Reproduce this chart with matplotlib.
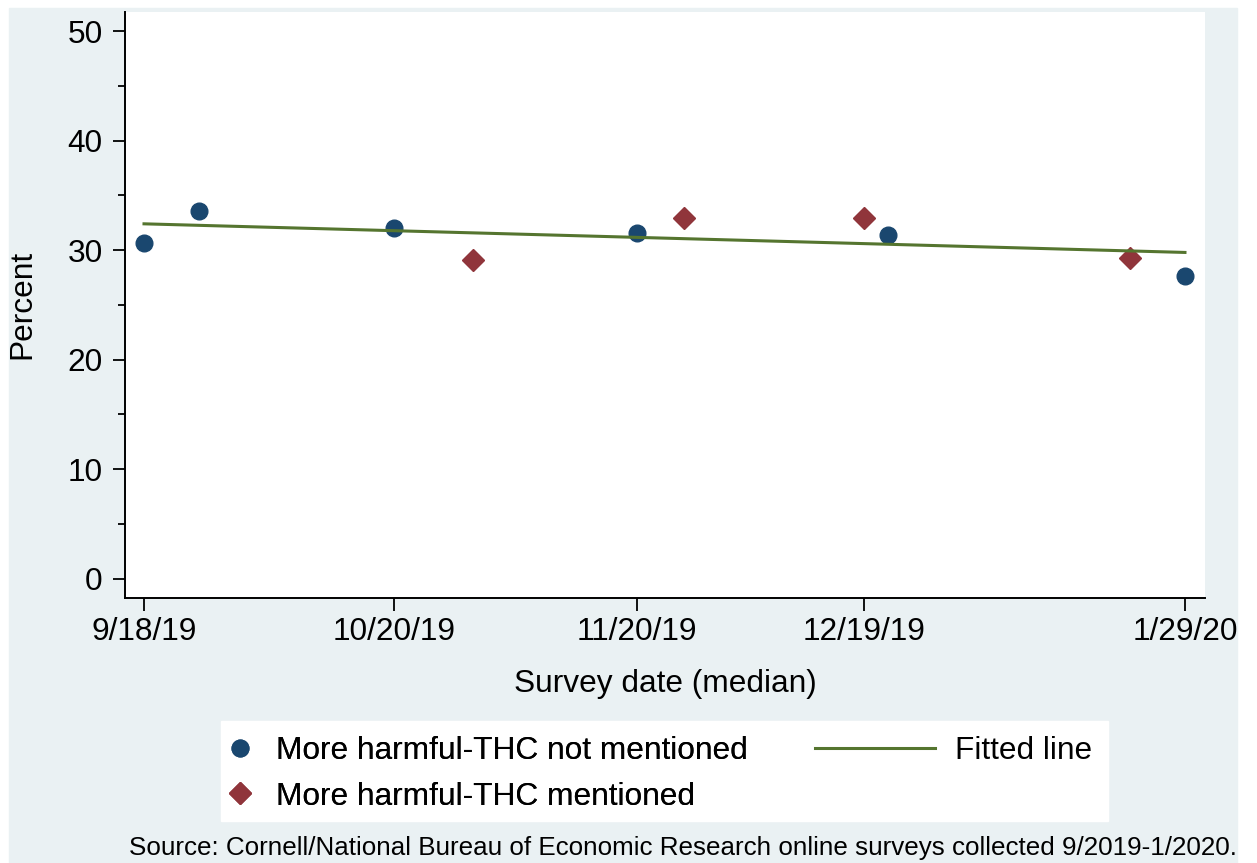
import numpy as np
import pandas as pd
import matplotlib
matplotlib.use('Agg')
import matplotlib.pyplot as plt
import matplotlib.dates as mdates
from matplotlib.patches import Rectangle
from matplotlib.lines import Line2D

plt.rcParams['font.family'] = ['Liberation Sans', 'DejaVu Sans']

# median survey dates and share saying vaping is more harmful
tick_dates = ['2019-09-18', '2019-10-20', '2019-11-20', '2019-12-19', '2020-01-29']
tick_labels = ['9/18/19', '10/20/19', '11/20/19', '12/19/19', '1/29/20']

not_mentioned_dates = ['2019-09-18', '2019-09-25', '2019-10-20', '2019-11-20', '2019-12-22', '2020-01-29']
not_mentioned_pct = [30.6, 33.55, 32.0, 31.6, 31.4, 27.6]

mentioned_dates = ['2019-10-30', '2019-11-26', '2019-12-19', '2020-01-22']
mentioned_pct = [29.1, 32.95, 32.9, 29.3]

navy = '#1A476F'
maroon = '#90353B'
green = '#55752F'
bg = '#EAF1F3'

W, H = 1257, 863
fs = 22.8

x_nm = mdates.date2num(pd.to_datetime(not_mentioned_dates))
x_m = mdates.date2num(pd.to_datetime(mentioned_dates))
x_ticks = mdates.date2num(pd.to_datetime(tick_dates))

# linear fit over both groups
x_all = np.concatenate([x_nm, x_m])
y_all = np.concatenate([not_mentioned_pct, mentioned_pct])
slope, intercept = np.polyfit(x_all, y_all, 1)
x_fit = np.array([x_all.min(), x_all.max()])
y_fit = intercept + slope * x_fit

fig = plt.figure(figsize=(W / 100, H / 100), dpi=100)
fig.patch.set_facecolor('white')
fig.patches.append(Rectangle((9 / W, 0), (1237 - 9) / W, (H - 8) / H,
                             transform=fig.transFigure, color=bg, zorder=-10))

ax = fig.add_axes([125 / W, 1 - 597.7 / H, 1080 / W, 585.7 / H])
ax.set_facecolor('white')

ax.plot(x_nm, not_mentioned_pct, 'o', color=navy, markersize=12, zorder=2)
ax.plot(x_m, mentioned_pct, 'D', color=maroon, markersize=11.5, zorder=2)
ax.plot(x_fit, y_fit, '-', color=green, linewidth=2.2, zorder=3)

ax.set_xlim(x_ticks[0] - 2.43, x_ticks[-1] + 2.56)
ax.set_ylim(-1.75, 51.74)

ax.set_xticks(x_ticks)
ax.set_xticklabels(tick_labels)
ax.set_yticks([0, 10, 20, 30, 40, 50])
ax.set_yticks([5, 15, 25, 35, 45], minor=True)

for side in ['top', 'right']:
    ax.spines[side].set_visible(False)
for side in ['left', 'bottom']:
    ax.spines[side].set_linewidth(1.4)
    ax.spines[side].set_color('black')

ax.tick_params(axis='both', which='major', length=9, width=1.3, labelsize=fs, color='black')
ax.tick_params(axis='y', which='major', pad=7)
ax.tick_params(axis='x', which='major', pad=5)
ax.tick_params(axis='y', which='minor', length=5, width=1.3, color='black')

ax.set_ylabel('Percent', fontsize=fs)
ax.yaxis.set_label_coords(22 / W, 0.5 * (1 - 12 / H + 1 - 597.7 / H), transform=fig.transFigure)
ax.yaxis.label.set_va('center')
ax.set_xlabel('Survey date (median)', fontsize=fs)
ax.xaxis.set_label_coords((125 + 540) / W, 1 - 684 / H, transform=fig.transFigure)
ax.xaxis.label.set_va('center')

# legend: white box with markers on the left, fitted line on the right
fig.patches.append(Rectangle((221 / W, 1 - 820.7 / H), (1108 - 221) / W, 100 / H,
                             transform=fig.transFigure, color='white', zorder=-5))

h_nm = Line2D([], [], linestyle='none', marker='o', color=navy, markersize=12)
h_m = Line2D([], [], linestyle='none', marker='D', color=maroon, markersize=11.5)
h_fit = Line2D([], [], color=green, linewidth=2.2)

px = fs * 100 / 72
leg1 = fig.legend(handles=[h_nm, h_m],
                  labels=['More harmful-THC not mentioned', 'More harmful-THC mentioned'],
                  loc='upper left', bbox_to_anchor=((240 - px / 2) / W, 1 - 736 / H),
                  frameon=False, borderpad=0, borderaxespad=0, fontsize=fs,
                  handlelength=1.0, handletextpad=(276 - 240 - px / 2) / px,
                  labelspacing=0.49)
leg2 = fig.legend(handles=[h_fit], labels=['Fitted line'],
                  loc='upper left', bbox_to_anchor=(815 / W, 1 - 736 / H),
                  frameon=False, borderpad=0, borderaxespad=0, fontsize=fs,
                  handlelength=120 / px, handletextpad=20 / px)
fig.add_artist(leg1)

fig.text(1237 / W, 1 - 848 / H,
         'Source: Cornell/National Bureau of Economic Research online surveys collected 9/2019-1/2020.',
         ha='right', va='center', fontsize=18.7)

fig.savefig('out.png', dpi=100)
